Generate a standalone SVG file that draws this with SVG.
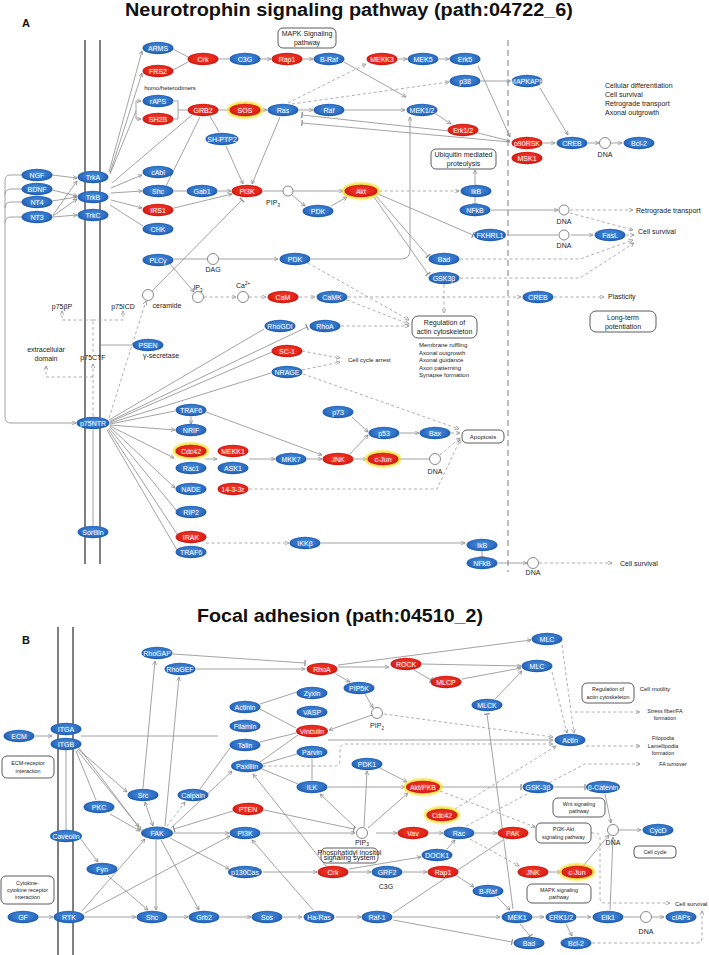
<svg xmlns="http://www.w3.org/2000/svg" width="709" height="955" viewBox="0 0 709 955">
<defs>
<radialGradient id="gb" cx="50%" cy="45%" r="55%"><stop offset="0" stop-color="#4c92de"/><stop offset="0.7" stop-color="#2e6fc4"/><stop offset="1" stop-color="#1e58a8"/></radialGradient>
<radialGradient id="gr" cx="50%" cy="45%" r="55%"><stop offset="0" stop-color="#f44030"/><stop offset="0.7" stop-color="#e2241a"/><stop offset="1" stop-color="#c71912"/></radialGradient>
<filter id="fz" x="-20%" y="-50%" width="140%" height="200%"><feGaussianBlur stdDeviation="0.6"/></filter>
<filter id="fg" x="-30%" y="-80%" width="160%" height="260%"><feGaussianBlur stdDeviation="1.3"/></filter>
<marker id="ah" viewBox="0 0 6 6" refX="5.6" refY="3" markerWidth="4.5" markerHeight="4.5" orient="auto" markerUnits="userSpaceOnUse"><path d="M0.3,0.4 L5.6,3 L0.3,5.6" fill="none" stroke="#8c8c8c" stroke-width="1"/></marker>
<marker id="as" viewBox="0 0 6 6" refX="5.6" refY="3" markerWidth="4.5" markerHeight="4.5" orient="auto-start-reverse" markerUnits="userSpaceOnUse"><path d="M0.3,0.4 L5.6,3 L0.3,5.6" fill="none" stroke="#8c8c8c" stroke-width="1"/></marker>
<marker id="tb" viewBox="0 0 2 8" refX="1" refY="4" markerWidth="1.6" markerHeight="7" orient="auto" markerUnits="userSpaceOnUse"><path d="M1,0 V8" stroke="#8c8c8c" stroke-width="1.6"/></marker>
<style>
.b{fill:url(#gb);filter:url(#fz)}
.r{fill:url(#gr);filter:url(#fz)}
.y{fill:#f2df34;filter:url(#fg)}
.w{font-family:"Liberation Sans",Arial,sans-serif;font-size:7px;fill:#fff;text-anchor:middle;dominant-baseline:central}
.k{font-family:"Liberation Sans",Arial,sans-serif;font-size:7px;fill:#222}
.c{text-anchor:middle}
.s6{font-size:6px}
.s5{font-size:5.4px}
.ttl{font-family:"Liberation Sans",Arial,sans-serif;font-weight:bold;fill:#111;text-anchor:middle}
.lbl{font-family:"Liberation Sans",Arial,sans-serif;font-weight:bold;font-size:11px;fill:#111}
.bx{fill:#fff;stroke:#333;stroke-width:0.8}
.ci{fill:#fff;stroke:#555;stroke-width:0.7}
.mem{stroke:#555;stroke-width:1.5;fill:none}
.l{stroke:#8c8c8c;stroke-width:0.8;fill:none}
.d{stroke-dasharray:3 2.5;stroke:#9a9a9a}
.a{marker-end:url(#ah)}
.t{marker-end:url(#tb)}
.ab{marker-start:url(#as);marker-end:url(#ah)}
</style>
</defs>
<rect width="709" height="955" fill="#fff"/>

<text class="ttl" x="349" y="15.5" font-size="17.5" textLength="448" lengthAdjust="spacingAndGlyphs">Neurotrophin signaling pathway (path:04722_6)</text>
<text class="lbl" x="22" y="27">A</text>
<text class="ttl" x="340" y="622" font-size="19" textLength="286" lengthAdjust="spacingAndGlyphs">Focal adhesion (path:04510_2)</text>
<text class="lbl" x="22" y="644">B</text>

<g id="membranes">
<path class="mem" d="M85,40 V564 M100,40 V564"/>
<path class="l" d="M93,430 V525"/>
<path d="M508,40 V572" stroke="#bdbdbd" stroke-width="2" stroke-dasharray="6 4" fill="none"/>
<path class="mem" d="M58,627 V955 M73,627 V955"/>
<path class="l" d="M66,750 V830"/>
</g>

<g id="connectors">
<path class="l a" d="M52,175 L77,178"/>
<path class="l a" d="M52,190 L77,196"/>
<path class="l a" d="M52,201 L77,197"/>
<path class="l a" d="M53,215 L77,181"/>
<path class="l a" d="M53,216 L77,199"/>
<path class="l a" d="M53,217 L77,215"/>
<path class="l a" d="M22,175 H10 Q5,175 5,181 V417 Q5,423 11,423 H76"/>
<path class="l" d="M22,189 H11 Q5,189 5,195"/>
<path class="l" d="M22,202 H11 Q5,202 5,208"/>
<path class="l" d="M22,217 H11 Q5,217 5,223"/>
<path class="l a" d="M109,172 L142,51"/>
<path class="l a" d="M110,173 L142,73"/>
<path class="l" d="M110,174 L136,111"/>
<path class="l a" d="M136,110 V101 H141"/>
<path class="l a" d="M136,110 V119 H141"/>
<path class="l" d="M174,101 H178 V119 H174 M178,110 H187"/>
<path class="l" d="M112,183 L192,115"/>
<path class="l a" d="M111,188 L142,175"/>
<path class="l a" d="M111,193 L142,191"/>
<path class="l a" d="M111,200 L142,208"/>
<path class="l" d="M110,205 L143,226"/>
<path class="l" d="M173,49 L188,57 M173,70 L188,62"/>
<path class="l" d="M218,59 H229"/>
<path class="l a" d="M260,59 H271"/>
<path class="l a" d="M302,59 H313"/>
<path class="l a" d="M344,62 L406,97"/>
<path class="l a" d="M398,59 H407"/>
<path class="l a" d="M439,59 H449"/>
<path class="l a" d="M478,66 L510,137"/>
<path class="l a" d="M481,81 H511"/>
<path class="l a" d="M540,88 L568,135"/>
<path class="l d a" d="M288,103 L366,64"/>
<path class="l d a" d="M292,104 L449,82"/>
<path class="l" d="M218,110 H229"/>
<path class="l a" d="M261,110 H267"/>
<path class="l a" d="M299,110 H313"/>
<path class="l a" d="M345,110 H405"/>
<path class="l a" d="M436,114 L451,124"/>
<path class="l t" d="M449,131 L302,115"/>
<path class="l t" d="M510,142 L302,123"/>
<path class="l a" d="M478,133 L510,141"/>
<path class="l a" d="M543,143 H555"/>
<path class="l a" d="M588,143 H599"/>
<path class="l a" d="M611,143 H622"/>
<path class="l" d="M210,116 L219,132"/>
<path class="l a" d="M226,146 L243,184"/>
<path class="l a" d="M280,117 L252,184"/>
<path class="l" d="M200,117 L166,186"/>
<path class="l" d="M174,191 H186"/>
<path class="l a" d="M218,191 H231"/>
<path class="l a" d="M174,208 L232,194"/>
<path class="l" d="M263,191 H283"/>
<path class="l a" d="M293,191 H343"/>
<path class="l a" d="M292,195 L305,206"/>
<path class="l a" d="M331,206 L347,197"/>
<path class="l d a" d="M379,191 H459"/>
<path class="l t" d="M475,197.5 V204"/>
<path class="l a" d="M475,184.5 V170"/>
<path class="l a" d="M491,210 H558"/>
<path class="l d a" d="M570,210 H633"/>
<path class="l d a" d="M570,213 L633,230"/>
<path class="l t" d="M378,194 L473,235"/>
<path class="l" d="M507,235 H558"/>
<path class="l a" d="M571,235 H593"/>
<path class="l d a" d="M626,235 H634"/>
<path class="l t" d="M376,196 L428,256"/>
<path class="l t" d="M374,197 L428,274"/>
<path class="l d a" d="M460,259 H580 L633,240"/>
<path class="l d a" d="M460,278 H580 L634,243"/>
<path class="l d a" d="M444,285 V313"/>
<path class="l d a" d="M308,263 L409,320"/>
<path class="l d a" d="M347,300 L409,324"/>
<path class="l d a" d="M341,326 L409,326"/>
<path class="l" d="M174,259 H207"/>
<path class="l a" d="M219,259 H278"/>
<path class="l a" d="M311,259 H401 Q410,259 410,250 V117"/>
<path class="l a" d="M170,264 L194,292"/>
<path class="l d a" d="M204,297 H236"/>
<path class="l d a" d="M249,297 H266"/>
<path class="l d a" d="M299,297 H315"/>
<path class="l d a" d="M348,297 H521"/>
<path class="l d a" d="M554,297 H604"/>
<path class="l t" d="M152,291 L242,200"/>
<path class="l d a" d="M109,418 L146,301"/>
<path class="l d" d="M93,416 V377"/>
<path class="l d a" d="M93,377 H46 V366"/>
<path class="l d a" d="M93,377 V364"/>
<path class="l d" d="M93,352 V320"/>
<path class="l d a" d="M93,320 H62 V311"/>
<path class="l d a" d="M93,320 H123 V311"/>
<path class="l" d="M132,345 H100"/>
<path class="l" d="M109,420 L264,329"/>
<path class="l t" d="M110,421 L307,327"/>
<path class="l" d="M110,422 L272,352"/>
<path class="l" d="M110,423 L271,373"/>
<path class="l" d="M110,424 L175,411"/>
<path class="l a" d="M110,425 L175,430"/>
<path class="l a" d="M110,426 L174,458"/>
<path class="l a" d="M110,427 L175,488"/>
<path class="l" d="M109,428 L176,510"/>
<path class="l" d="M108,429 L177,534"/>
<path class="l" d="M107,430 L177,550"/>
<path class="l a" d="M191,417 V424"/>
<path class="l a" d="M206,412 L322,455"/>
<path class="l a" d="M205,459 H217"/>
<path class="l a" d="M249,459 H275"/>
<path class="l a" d="M307,459 H322"/>
<path class="l a" d="M354,459 H367"/>
<path class="l a" d="M350,454 L368,435"/>
<path class="l a" d="M352,417 L368,432"/>
<path class="l a" d="M400,433 H419"/>
<path class="l d a" d="M451,433 H460"/>
<path class="l d a" d="M440,455 L460,438"/>
<path class="l d a" d="M303,374 L459,429"/>
<path class="l d a" d="M249,489 H437 L460,440"/>
<path class="l" d="M399,459 H429"/>
<path class="l d a" d="M302,351 L340,358"/>
<path class="l d a" d="M302,370 L340,362"/>
<path class="l d a" d="M206,543 H289"/>
<path class="l a" d="M321,543 H465"/>
<path class="l t" d="M482,551.5 V557"/>
<path class="l a" d="M498,563 H527"/>
<path class="l d a" d="M539,563 H612"/>
<path class="l a" d="M35,736 H52"/>
<path class="l" d="M81,736 H218"/>
<path class="l t" d="M173,654 L305,663"/>
<path class="l a" d="M196,669 H305"/>
<path class="l a" d="M143,788 L155,661"/>
<path class="l a" d="M165,826 L179,677"/>
<path class="l a" d="M338,667 H389"/>
<path class="l a" d="M336,674 L350,682"/>
<path class="l a" d="M338,665 L531,640"/>
<path class="l a" d="M422,664 L521,666"/>
<path class="l t" d="M414,670 L431,680"/>
<path class="l a" d="M462,679 L521,668"/>
<path class="l a" d="M495,699 L522,671"/>
<path class="l d a" d="M562,645 L574,733"/>
<path class="l d a" d="M552,672 L567,733"/>
<path class="l d a" d="M575,712 H640"/>
<path class="l a" d="M365,694 L373,708"/>
<path class="l a" d="M372,715 L329,730"/>
<path class="l d a" d="M384,714 L553,737"/>
<path class="l" d="M260,704 L297,692"/>
<path class="l" d="M260,709 L296,728"/>
<path class="l" d="M260,742 L296,733"/>
<path class="l a" d="M328,740 H553"/>
<path class="l d a" d="M263,766 H334 Q340,766 340,760 V750 Q340,744 346,744 H553"/>
<path class="l d a" d="M586,746 H640"/>
<path class="l d a" d="M466,826 L585,764 H640"/>
<path class="l d a" d="M455,809 L556,746"/>
<path class="l d a" d="M440,791 L535,827"/>
<path class="l d a" d="M470,839 L519,866"/>
<path class="l t" d="M440,787 H521"/>
<path class="l t" d="M554,787 H585"/>
<path class="l a" d="M605,794 L611,823"/>
<path class="l a" d="M619,830 H641"/>
<path class="l a" d="M584,865 L609,835"/>
<path class="l a" d="M610,910 L613,837"/>
<path class="l d a" d="M591,833 H595 Q600,833 600,838 V898 Q600,903 605,903 H670"/>
<path class="l d a" d="M592,943 H697 Q702,943 702,938 V911"/>
<path class="l a" d="M533,917 H544"/>
<path class="l a" d="M577,917 H591"/>
<path class="l a" d="M566,924 L572,936"/>
<path class="l" d="M624,917 H640"/>
<path class="l a" d="M652,917 H664"/>
<path class="l t" d="M520,924 L530,936"/>
<path class="l t" d="M393,920 L512,942"/>
<path class="l a" d="M393,917 H500"/>
<path class="l a" d="M497,897 L510,910"/>
<path class="l a" d="M457,876 L474,887"/>
<path class="l" d="M393,913 L503,840"/>
<path class="l t" d="M513,909 L487,714"/>
<path class="l a" d="M475,833 H497"/>
<path class="l a" d="M429,833 H443"/>
<path class="l a" d="M447,849 L455,840"/>
<path class="l a" d="M349,869 L421,857"/>
<path class="l a" d="M349,872 H371"/>
<path class="l a" d="M403,872 H427"/>
<path class="l a" d="M326,866 L253,774"/>
<path class="l a" d="M263,872 H317"/>
<path class="l a" d="M261,833 H355"/>
<path class="l t" d="M264,810 L354,829"/>
<path class="l a" d="M356,828 L320,794"/>
<path class="l a" d="M364,827 L367,771"/>
<path class="l a" d="M368,828 L408,793"/>
<path class="l a" d="M380,768 L407,782"/>
<path class="l a" d="M328,787 H405"/>
<path class="l" d="M312,759 V780"/>
<path class="l" d="M263,764 L297,754"/>
<path class="l" d="M262,769 L298,784"/>
<path class="l" d="M260,762 L298,735"/>
<path class="l a" d="M171,828 L232,771"/>
<path class="l" d="M200,789 L230,748"/>
<path class="l d a" d="M167,826 L185,802"/>
<path class="l ab" d="M145,802 L153,826"/>
<path class="l a" d="M78,749 L127,792"/>
<path class="l a" d="M79,748 L141,830"/>
<path class="l a" d="M77,750 L139,827"/>
<path class="l" d="M76,751 L96,800"/>
<path class="l a" d="M110,814 L140,831"/>
<path class="l a" d="M80,838 L98,862"/>
<path class="l a" d="M108,876 L148,910"/>
<path class="l a" d="M82,911 L145,839"/>
<path class="l a" d="M85,913 L230,836"/>
<path class="l a" d="M85,917 H136"/>
<path class="l a" d="M37,917 H53"/>
<path class="l a" d="M156,840 V910"/>
<path class="l a" d="M161,840 L199,910"/>
<path class="l a" d="M173,833 H229"/>
<path class="l a" d="M170,838 L229,869"/>
<path class="l t" d="M233,811 L174,829"/>
<path class="l a" d="M168,917 H188"/>
<path class="l a" d="M220,917 H251"/>
<path class="l a" d="M283,917 H302"/>
<path class="l a" d="M336,917 H361"/>
<path class="l a" d="M313,910 L252,840"/>
<path class="l a" d="M376,833 H397"/>
<path class="l a" d="M549,872 H561"/>
</g>

<g id="labels">
<text class="k s6 c" x="170" y="90">homo/heterodimers</text>
<text class="k" x="605" y="88">Cellular differentiation</text>
<text class="k" x="605" y="97">Cell survival</text>
<text class="k" x="605" y="106">Retrograde transport</text>
<text class="k" x="605" y="115">Axonal outgrowth</text>
<text class="k" x="636" y="213">Retrograde transport</text>
<text class="k" x="638" y="234">Cell survival</text>
<text class="k" x="608" y="299">Plasticity</text>
<text class="k s6" x="348" y="362">Cell cycle arrest</text>
<text class="k s6" x="419" y="347">Membrane ruffling</text>
<text class="k s6" x="419" y="354.5">Axonal outgrowth</text>
<text class="k s6" x="419" y="362">Axonal guidance</text>
<text class="k s6" x="419" y="369.5">Axon patterning</text>
<text class="k s6" x="419" y="377">Synapse formation</text>
<text class="k" x="620" y="565.5">Cell survival</text>
<text class="k c" x="273" y="205">PIP<tspan font-size="4.5" dy="1.5">3</tspan></text>
<text class="k c" x="605" y="157">DNA</text>
<text class="k c" x="564" y="224">DNA</text>
<text class="k c" x="564" y="248">DNA</text>
<text class="k c" x="213" y="272">DAG</text>
<text class="k c" x="198" y="290">IP<tspan font-size="4.5" dy="1.5">3</tspan></text>
<text class="k c" x="243" y="288">Ca<tspan font-size="4.5" dy="-3">2+</tspan></text>
<text class="k c" x="167" y="308">ceramide</text>
<text class="k c" x="62" y="309">p75βP</text>
<text class="k c" x="123" y="309">p75ICD</text>
<text class="k c" x="46" y="352">extracellular</text>
<text class="k c" x="46" y="361">domain</text>
<text class="k c" x="93" y="360">p75CTF</text>
<text class="k c" x="161" y="358">γ-secretase</text>
<text class="k c" x="435" y="474">DNA</text>
<text class="k c" x="533" y="575">DNA</text>
<text class="k c" x="377" y="728">PIP<tspan font-size="4.5" dy="1.5">2</tspan></text>
<text class="k c" x="362" y="845" font-size="8">PIP<tspan font-size="5" dy="1.2">3</tspan></text>
<text class="k c" x="613" y="845" font-size="7.5">DNA</text>
<text class="k c" x="646" y="934" font-size="7.5">DNA</text>
<text class="k c" x="386" y="889">C3G</text>
<text class="k s6 c" x="655" y="691">Cell motility</text>
<text class="k s5 c" x="665" y="713">Stress fiber/FA</text>
<text class="k s5 c" x="665" y="720">formation</text>
<text class="k s5 c" x="663" y="740">Filopodia</text>
<text class="k s5 c" x="663" y="747.5">Lamellipodia</text>
<text class="k s5 c" x="663" y="755">formation</text>
<text class="k s5 c" x="673" y="766">FA turnover</text>
<text class="k s6" x="675" y="906">Cell survival</text>
</g>

<g id="boxes">
<g id="box-mapk"><rect class="bx" x="278" y="28" width="58" height="20" rx="5"/><text class="k c" x="307" y="36">MAPK Signaling</text><text class="k c" x="307" y="44.5">pathway</text></g>
<g id="box-ubiq"><rect class="bx" x="431" y="149" width="65" height="20" rx="5"/><text class="k c" x="463.5" y="157">Ubiquitin mediated</text><text class="k c" x="463.5" y="165.5">proteolysis</text></g>
<g id="box-actinA"><rect class="bx" x="412" y="316" width="65" height="22" rx="6"/><text class="k c" x="444.5" y="325">Regulation of</text><text class="k c" x="444.5" y="334">actin cytoskeleton</text></g>
<g id="box-ltp"><rect class="bx" x="590" y="311" width="66" height="21" rx="6"/><text class="k c" x="623" y="319.5">Long-term</text><text class="k c" x="623" y="328.5">potentiation</text></g>
<g id="box-apop"><rect class="bx" x="462" y="430" width="42" height="13" rx="5"/><text class="k s6 c" x="483" y="438.8">Apoptosis</text></g>
<g id="box-actinB"><rect class="bx" x="582" y="683" width="52" height="20" rx="5"/><text class="k s5 c" x="608" y="691">Regulation of</text><text class="k s5 c" x="608" y="698.5">actin cytoskeleton</text></g>
<g id="box-ecm"><rect class="bx" x="2" y="756" width="52" height="22" rx="5"/><text class="k s5 c" x="28" y="765">ECM-receptor</text><text class="k s5 c" x="28" y="772.5">interaction</text></g>
<g id="box-cyto"><rect class="bx" x="1" y="876" width="53" height="28" rx="5"/><text class="k s5 c" x="27.5" y="885">Cytokine-</text><text class="k s5 c" x="27.5" y="892">cytokine receptor</text><text class="k s5 c" x="27.5" y="899">interaction</text></g>
<g id="box-phos"><rect class="bx" x="321" y="848" width="57" height="15" rx="5"/><text class="k c" x="349.5" y="854.5" font-size="4.3">Phosphatidyl inositol</text><text class="k c" x="349.5" y="860.3" font-size="4.3">signaling system</text></g>
<g id="box-wnt"><rect class="bx" x="553" y="798" width="52" height="19" rx="5"/><text class="k s5 c" x="579" y="806">Wnt signaling</text><text class="k s5 c" x="579" y="813">pathway</text></g>
<g id="box-pi3k"><rect class="bx" x="536" y="823" width="55" height="20" rx="5"/><text class="k s5 c" x="563.5" y="831">PI3K-Akt</text><text class="k s5 c" x="563.5" y="838.5">signaling pathway</text></g>
<g id="box-cc"><rect class="bx" x="634" y="846" width="42" height="12" rx="4"/><text class="k s5 c" x="655" y="854">Cell cycle</text></g>
<g id="box-mapkB"><rect class="bx" x="527" y="884" width="64" height="19" rx="5"/><text class="k s5 c" x="559" y="892">MAPK signaling</text><text class="k s5 c" x="559" y="899">pathway</text></g>
</g>

<g id="circles">
<circle class="ci" cx="288" cy="191" r="5"/>
<circle class="ci" cx="605" cy="143" r="5.5"/>
<circle class="ci" cx="564" cy="210" r="5"/>
<circle class="ci" cx="564" cy="235" r="5"/>
<circle class="ci" cx="213" cy="259" r="5.5"/>
<circle class="ci" cx="198" cy="297" r="5.5"/>
<circle class="ci" cx="243" cy="297" r="5.5"/>
<circle class="ci" cx="148" cy="295" r="5.5"/>
<circle class="ci" cx="435" cy="459" r="5.5"/>
<circle class="ci" cx="533" cy="563" r="5.5"/>
<circle class="ci" cx="377" cy="713" r="5.5"/>
<circle class="ci" cx="362" cy="833" r="5.5"/>
<circle class="ci" cx="613" cy="830" r="5.5"/>
<circle class="ci" cx="646" cy="917" r="5.5"/>
</g>

<g id="n-ARMS"><ellipse class="b" cx="158" cy="48" rx="15.5" ry="6.2"/><text class="w" x="158" y="48">ARMS</text></g>
<g id="n-FRS2"><ellipse class="r" cx="158" cy="71" rx="15.5" ry="6.2"/><text class="w" x="158" y="71">FRS2</text></g>
<g id="n-Crk"><ellipse class="r" cx="203" cy="59" rx="15.5" ry="6.2"/><text class="w" x="203" y="59">Crk</text></g>
<g id="n-C3G"><ellipse class="b" cx="245" cy="59" rx="15.5" ry="6.2"/><text class="w" x="245" y="59">C3G</text></g>
<g id="n-Rap1"><ellipse class="r" cx="287" cy="59" rx="15.5" ry="6.2"/><text class="w" x="287" y="59">Rap1</text></g>
<g id="n-BRaf"><ellipse class="b" cx="329" cy="59" rx="15.5" ry="6.2"/><text class="w" x="329" y="59">B-Raf</text></g>
<g id="n-MEKK3"><ellipse class="r" cx="382" cy="59" rx="15.5" ry="6.2"/><text class="w" x="382" y="59">MEKK3</text></g>
<g id="n-MEK5"><ellipse class="b" cx="423" cy="59" rx="15.5" ry="6.2"/><text class="w" x="423" y="59">MEK5</text></g>
<g id="n-Erk5"><ellipse class="b" cx="465" cy="59" rx="15.5" ry="6.2"/><text class="w" x="465" y="59">Erk5</text></g>
<g id="n-p38"><ellipse class="b" cx="465" cy="81" rx="15.5" ry="6.2"/><text class="w" x="465" y="81">p38</text></g>
<g id="n-MAPKAPK"><ellipse class="b" cx="527" cy="81" rx="15.5" ry="6.2"/><text class="w" x="527" y="81" font-size="5.5">MAPKAPK</text></g>
<g id="n-rAPS"><ellipse class="b" cx="158" cy="101" rx="15.5" ry="6.2"/><text class="w" x="158" y="101">rAPS</text></g>
<g id="n-SH2B"><ellipse class="r" cx="158" cy="119" rx="15.5" ry="6.2"/><text class="w" x="158" y="119">SH2B</text></g>
<g id="n-GRB2"><ellipse class="r" cx="203" cy="110" rx="15.5" ry="6.2"/><text class="w" x="203" y="110">GRB2</text></g>
<g id="n-SOS"><ellipse class="y" cx="245" cy="110" rx="18" ry="8.5"/><ellipse class="r" cx="245" cy="110" rx="15.5" ry="6.2"/><text class="w" x="245" y="110">SOS</text></g>
<g id="n-Ras"><ellipse class="b" cx="283" cy="110" rx="15.5" ry="6.2"/><text class="w" x="283" y="110">Ras</text></g>
<g id="n-Raf"><ellipse class="b" cx="329" cy="110" rx="15.5" ry="6.2"/><text class="w" x="329" y="110">Raf</text></g>
<g id="n-MEK12"><ellipse class="b" cx="422" cy="110" rx="15.5" ry="6.2"/><text class="w" x="422" y="110">MEK1/2</text></g>
<g id="n-Erk12"><ellipse class="r" cx="463" cy="130" rx="15.5" ry="6.2"/><text class="w" x="463" y="130">Erk1/2</text></g>
<g id="n-p90RSK"><ellipse class="r" cx="527" cy="143" rx="15.5" ry="6.2"/><text class="w" x="527" y="143">p90RSK</text></g>
<g id="n-MSK1"><ellipse class="r" cx="527" cy="158" rx="15.5" ry="6.2"/><text class="w" x="527" y="158">MSK1</text></g>
<g id="n-CREB"><ellipse class="b" cx="572" cy="143" rx="15.5" ry="6.2"/><text class="w" x="572" y="143">CREB</text></g>
<g id="n-Bcl2"><ellipse class="b" cx="639" cy="143" rx="15.5" ry="6.2"/><text class="w" x="639" y="143">Bcl-2</text></g>
<g id="n-SHPTP2"><ellipse class="b" cx="222" cy="139" rx="16.5" ry="6.2"/><text class="w" x="222" y="139">SH-PTP2</text></g>
<g id="n-cAbl"><ellipse class="b" cx="158" cy="172" rx="15.5" ry="6.2"/><text class="w" x="158" y="172">cAbl</text></g>
<g id="n-Shc"><ellipse class="b" cx="158" cy="191" rx="15.5" ry="6.2"/><text class="w" x="158" y="191">Shc</text></g>
<g id="n-Gab1"><ellipse class="b" cx="202" cy="191" rx="15.5" ry="6.2"/><text class="w" x="202" y="191">Gab1</text></g>
<g id="n-IRS1"><ellipse class="r" cx="158" cy="210" rx="15.5" ry="6.2"/><text class="w" x="158" y="210">IRS1</text></g>
<g id="n-CHK"><ellipse class="b" cx="158" cy="229" rx="15.5" ry="6.2"/><text class="w" x="158" y="229">CHK</text></g>
<g id="n-PI3K"><ellipse class="r" cx="247" cy="191" rx="15.5" ry="6.2"/><text class="w" x="247" y="191">PI3K</text></g>
<g id="n-PDK"><ellipse class="b" cx="318" cy="211" rx="15.5" ry="6.2"/><text class="w" x="318" y="211">PDK</text></g>
<g id="n-Akt"><ellipse class="y" cx="361" cy="191" rx="19" ry="8.5"/><ellipse class="r" cx="361" cy="191" rx="16.5" ry="6.2"/><text class="w" x="361" y="191">Akt</text></g>
<g id="n-IkB"><ellipse class="b" cx="476" cy="191" rx="15.5" ry="6.2"/><text class="w" x="476" y="191">IkB</text></g>
<g id="n-NFkB"><ellipse class="b" cx="475" cy="210" rx="15.5" ry="6.2"/><text class="w" x="475" y="210">NFkB</text></g>
<g id="n-FKHRL1"><ellipse class="b" cx="490" cy="235" rx="16" ry="6.2"/><text class="w" x="490" y="235">FKHRL1</text></g>
<g id="n-FasL"><ellipse class="b" cx="610" cy="235" rx="15.5" ry="6.2"/><text class="w" x="610" y="235">FasL</text></g>
<g id="n-NGF"><ellipse class="b" cx="37" cy="175" rx="15.5" ry="6.2"/><text class="w" x="37" y="175">NGF</text></g>
<g id="n-BDNF"><ellipse class="b" cx="37" cy="189" rx="15.5" ry="6.2"/><text class="w" x="37" y="189">BDNF</text></g>
<g id="n-NT4"><ellipse class="b" cx="37" cy="202" rx="15.5" ry="6.2"/><text class="w" x="37" y="202">NT4</text></g>
<g id="n-NT3"><ellipse class="b" cx="37" cy="217" rx="15.5" ry="6.2"/><text class="w" x="37" y="217">NT3</text></g>
<g id="n-TrkA"><ellipse class="b" cx="93" cy="177" rx="15.5" ry="6.2"/><text class="w" x="93" y="177">TrkA</text></g>
<g id="n-TrkB"><ellipse class="b" cx="93" cy="197" rx="15.5" ry="6.2"/><text class="w" x="93" y="197">TrkB</text></g>
<g id="n-TrkC"><ellipse class="b" cx="93" cy="215" rx="15.5" ry="6.2"/><text class="w" x="93" y="215">TrkC</text></g>
<g id="n-PLCg"><ellipse class="b" cx="158" cy="260" rx="15.5" ry="6.2"/><text class="w" x="158" y="260">PLCγ</text></g>
<g id="n-PDK2"><ellipse class="b" cx="295" cy="259" rx="15.5" ry="6.2"/><text class="w" x="295" y="259">PDK</text></g>
<g id="n-Bad"><ellipse class="b" cx="444" cy="259" rx="15.5" ry="6.2"/><text class="w" x="444" y="259">Bad</text></g>
<g id="n-GSK3b"><ellipse class="b" cx="444" cy="278" rx="15.5" ry="6.2"/><text class="w" x="444" y="278">GSK3β</text></g>
<g id="n-CaM"><ellipse class="r" cx="283" cy="297" rx="15.5" ry="6.2"/><text class="w" x="283" y="297">CaM</text></g>
<g id="n-CaMK"><ellipse class="b" cx="332" cy="297" rx="15.5" ry="6.2"/><text class="w" x="332" y="297">CaMK</text></g>
<g id="n-CREB2"><ellipse class="b" cx="538" cy="297" rx="15.5" ry="6.2"/><text class="w" x="538" y="297">CREB</text></g>
<g id="n-RhoGDI"><ellipse class="b" cx="280" cy="326" rx="15.5" ry="6.2"/><text class="w" x="280" y="326">RhoGDI</text></g>
<g id="n-RhoA"><ellipse class="b" cx="325" cy="326" rx="15.5" ry="6.2"/><text class="w" x="325" y="326">RhoA</text></g>
<g id="n-SC1"><ellipse class="r" cx="287" cy="351" rx="15.5" ry="6.2"/><text class="w" x="287" y="351">SC-1</text></g>
<g id="n-NRAGE"><ellipse class="b" cx="287" cy="372" rx="15.5" ry="6.2"/><text class="w" x="287" y="372">NRAGE</text></g>
<g id="n-PSEN"><ellipse class="b" cx="148" cy="345" rx="15.5" ry="6.2"/><text class="w" x="148" y="345">PSEN</text></g>
<g id="n-p75NTR"><ellipse class="b" cx="93" cy="423" rx="16.5" ry="6.2"/><text class="w" x="93" y="423">p75NTR</text></g>
<g id="n-TRAF6"><ellipse class="b" cx="191" cy="410" rx="15.5" ry="6.2"/><text class="w" x="191" y="410">TRAF6</text></g>
<g id="n-NRIF"><ellipse class="b" cx="191" cy="430" rx="15.5" ry="6.2"/><text class="w" x="191" y="430">NRIF</text></g>
<g id="n-Cdc42"><ellipse class="y" cx="191" cy="451" rx="18" ry="8.5"/><ellipse class="r" cx="191" cy="451" rx="15.5" ry="6.2"/><text class="w" x="191" y="451">Cdc42</text></g>
<g id="n-Rac1"><ellipse class="b" cx="191" cy="468" rx="15.5" ry="6.2"/><text class="w" x="191" y="468">Rac1</text></g>
<g id="n-MEKK1"><ellipse class="r" cx="233" cy="451" rx="15.5" ry="6.2"/><text class="w" x="233" y="451">MEKK1</text></g>
<g id="n-ASK1"><ellipse class="b" cx="233" cy="468" rx="15.5" ry="6.2"/><text class="w" x="233" y="468">ASK1</text></g>
<g id="n-NADE"><ellipse class="b" cx="191" cy="489" rx="15.5" ry="6.2"/><text class="w" x="191" y="489">NADE</text></g>
<g id="n-1433"><ellipse class="r" cx="233" cy="489" rx="15.5" ry="6.2"/><text class="w" x="233" y="489">14-3-3ε</text></g>
<g id="n-RIP2"><ellipse class="b" cx="191" cy="512" rx="15.5" ry="6.2"/><text class="w" x="191" y="512">RIP2</text></g>
<g id="n-p73"><ellipse class="b" cx="338" cy="412" rx="15.5" ry="6.2"/><text class="w" x="338" y="412">p73</text></g>
<g id="n-p53"><ellipse class="b" cx="384" cy="433" rx="15.5" ry="6.2"/><text class="w" x="384" y="433">p53</text></g>
<g id="n-Bax"><ellipse class="b" cx="435" cy="433" rx="15.5" ry="6.2"/><text class="w" x="435" y="433">Bax</text></g>
<g id="n-MKK7"><ellipse class="b" cx="291" cy="459" rx="15.5" ry="6.2"/><text class="w" x="291" y="459">MKK7</text></g>
<g id="n-JNK"><ellipse class="r" cx="338" cy="459" rx="15.5" ry="6.2"/><text class="w" x="338" y="459">JNK</text></g>
<g id="n-cJun"><ellipse class="y" cx="383" cy="459" rx="18" ry="8.5"/><ellipse class="r" cx="383" cy="459" rx="15.5" ry="6.2"/><text class="w" x="383" y="459">c-Jun</text></g>
<g id="n-Sortilin"><ellipse class="b" cx="93" cy="532" rx="15.5" ry="6.2"/><text class="w" x="93" y="532">Sortilin</text></g>
<g id="n-IRAK"><ellipse class="r" cx="191" cy="537" rx="15.5" ry="6.2"/><text class="w" x="191" y="537">IRAK</text></g>
<g id="n-TRAF6b"><ellipse class="b" cx="191" cy="552" rx="15.5" ry="6.2"/><text class="w" x="191" y="552">TRAF6</text></g>
<g id="n-IKKb"><ellipse class="b" cx="305" cy="543" rx="15.5" ry="6.2"/><text class="w" x="305" y="543">IKKβ</text></g>
<g id="n-IkB2"><ellipse class="b" cx="482" cy="545" rx="15.5" ry="6.2"/><text class="w" x="482" y="545">IkB</text></g>
<g id="n-NFkB2"><ellipse class="b" cx="482" cy="563" rx="15.5" ry="6.2"/><text class="w" x="482" y="563">NFkB</text></g>

<g id="m-RhoGAP"><ellipse class="b" cx="157" cy="653" rx="15.5" ry="6.2"/><text class="w" x="157" y="653">RhoGAP</text></g>
<g id="m-RhoGEF"><ellipse class="b" cx="180" cy="669" rx="15.5" ry="6.2"/><text class="w" x="180" y="669">RhoGEF</text></g>
<g id="m-ECM"><ellipse class="b" cx="19" cy="736" rx="15.5" ry="6.2"/><text class="w" x="19" y="736">ECM</text></g>
<g id="m-ITGA"><ellipse class="b" cx="66" cy="729" rx="15.5" ry="6.2"/><text class="w" x="66" y="729">ITGA</text></g>
<g id="m-ITGB"><ellipse class="b" cx="66" cy="744" rx="15.5" ry="6.2"/><text class="w" x="66" y="744">ITGB</text></g>
<g id="m-RhoA"><ellipse class="r" cx="322" cy="669" rx="15.5" ry="6.2"/><text class="w" x="322" y="669">RhoA</text></g>
<g id="m-ROCK"><ellipse class="r" cx="406" cy="664" rx="15.5" ry="6.2"/><text class="w" x="406" y="664">ROCK</text></g>
<g id="m-MLCP"><ellipse class="r" cx="446" cy="682" rx="15.5" ry="6.2"/><text class="w" x="446" y="682">MLCP</text></g>
<g id="m-PIP5K"><ellipse class="b" cx="359" cy="688" rx="15.5" ry="6.2"/><text class="w" x="359" y="688">PIP5K</text></g>
<g id="m-Zyxin"><ellipse class="b" cx="312" cy="693" rx="15.5" ry="6.2"/><text class="w" x="312" y="693">Zyxin</text></g>
<g id="m-VASP"><ellipse class="b" cx="312" cy="712" rx="15.5" ry="6.2"/><text class="w" x="312" y="712">VASP</text></g>
<g id="m-Actinin"><ellipse class="b" cx="245" cy="707" rx="15.5" ry="6.2"/><text class="w" x="245" y="707">Actinin</text></g>
<g id="m-Filamin"><ellipse class="b" cx="245" cy="726" rx="15.5" ry="6.2"/><text class="w" x="245" y="726">Filamin</text></g>
<g id="m-Vinculin"><ellipse class="r" cx="312" cy="731" rx="16" ry="6.2"/><text class="w" x="312" y="731">Vinculin</text></g>
<g id="m-Talin"><ellipse class="b" cx="245" cy="745" rx="15.5" ry="6.2"/><text class="w" x="245" y="745">Talin</text></g>
<g id="m-MLC"><ellipse class="b" cx="547" cy="639" rx="15.5" ry="6.2"/><text class="w" x="547" y="639">MLC</text></g>
<g id="m-MLC2"><ellipse class="b" cx="537" cy="666" rx="15.5" ry="6.2"/><text class="w" x="537" y="666">MLC</text></g>
<g id="m-MLCK"><ellipse class="b" cx="487" cy="705" rx="15.5" ry="6.2"/><text class="w" x="487" y="705">MLCK</text></g>
<g id="m-Actin"><ellipse class="b" cx="570" cy="740" rx="15.5" ry="6.2"/><text class="w" x="570" y="740">Actin</text></g>
<g id="m-Parvin"><ellipse class="b" cx="312" cy="752" rx="15.5" ry="6.2"/><text class="w" x="312" y="752">Parvin</text></g>
<g id="m-Paxillin"><ellipse class="b" cx="247" cy="766" rx="16" ry="6.2"/><text class="w" x="247" y="766">Paxillin</text></g>
<g id="m-PDK1"><ellipse class="b" cx="367" cy="764" rx="15.5" ry="6.2"/><text class="w" x="367" y="764">PDK1</text></g>
<g id="m-ILK"><ellipse class="b" cx="312" cy="787" rx="15.5" ry="6.2"/><text class="w" x="312" y="787">ILK</text></g>
<g id="m-AktPKB"><ellipse class="y" cx="423" cy="787" rx="19.5" ry="8.5"/><ellipse class="r" cx="423" cy="787" rx="17" ry="6.2"/><text class="w" x="423" y="787">Akt/PKB</text></g>
<g id="m-GSK3b"><ellipse class="b" cx="538" cy="787" rx="15.5" ry="6.2"/><text class="w" x="538" y="787">GSK-3β</text></g>
<g id="m-bCat"><ellipse class="b" cx="603" cy="787" rx="17" ry="6.2"/><text class="w" x="603" y="787">β-Catenin</text></g>
<g id="m-Src"><ellipse class="b" cx="143" cy="795" rx="15.5" ry="6.2"/><text class="w" x="143" y="795">Src</text></g>
<g id="m-Calpain"><ellipse class="b" cx="193" cy="795" rx="15.5" ry="6.2"/><text class="w" x="193" y="795">Calpain</text></g>
<g id="m-PKC"><ellipse class="b" cx="99" cy="807" rx="15.5" ry="6.2"/><text class="w" x="99" y="807">PKC</text></g>
<g id="m-FAK"><ellipse class="b" cx="157" cy="833" rx="16" ry="6.5"/><text class="w" x="157" y="833">FAK</text></g>
<g id="m-Caveolin"><ellipse class="b" cx="66" cy="836" rx="16" ry="6.2"/><text class="w" x="66" y="836">Caveolin</text></g>
<g id="m-PTEN"><ellipse class="r" cx="248" cy="809" rx="15.5" ry="6.2"/><text class="w" x="248" y="809">PTEN</text></g>
<g id="m-Cdc42"><ellipse class="y" cx="442" cy="815" rx="18" ry="8.5"/><ellipse class="r" cx="442" cy="815" rx="15.5" ry="6.2"/><text class="w" x="442" y="815">Cdc42</text></g>
<g id="m-PI3K"><ellipse class="b" cx="245" cy="833" rx="15.5" ry="6.2"/><text class="w" x="245" y="833">PI3K</text></g>
<g id="m-Vav"><ellipse class="r" cx="413" cy="833" rx="15.5" ry="6.2"/><text class="w" x="413" y="833">Vav</text></g>
<g id="m-Rac"><ellipse class="b" cx="459" cy="833" rx="15.5" ry="6.2"/><text class="w" x="459" y="833">Rac</text></g>
<g id="m-PAK"><ellipse class="r" cx="513" cy="833" rx="15.5" ry="6.2"/><text class="w" x="513" y="833">PAK</text></g>
<g id="m-CycD"><ellipse class="b" cx="658" cy="830" rx="15.5" ry="6.2"/><text class="w" x="658" y="830">CycD</text></g>
<g id="m-DOCK1"><ellipse class="b" cx="437" cy="855" rx="15.5" ry="6.2"/><text class="w" x="437" y="855">DOCK1</text></g>
<g id="m-Fyn"><ellipse class="b" cx="102" cy="869" rx="15.5" ry="6.2"/><text class="w" x="102" y="869">Fyn</text></g>
<g id="m-p130Cas"><ellipse class="b" cx="245" cy="872" rx="17" ry="6.2"/><text class="w" x="245" y="872">p130Cas</text></g>
<g id="m-Crk"><ellipse class="r" cx="333" cy="872" rx="15.5" ry="6.2"/><text class="w" x="333" y="872">Crk</text></g>
<g id="m-GRF2"><ellipse class="b" cx="387" cy="872" rx="15.5" ry="6.2"/><text class="w" x="387" y="872">GRF2</text></g>
<g id="m-Rap1"><ellipse class="r" cx="443" cy="872" rx="15.5" ry="6.2"/><text class="w" x="443" y="872">Rap1</text></g>
<g id="m-JNK"><ellipse class="r" cx="533" cy="872" rx="15.5" ry="6.2"/><text class="w" x="533" y="872">JNK</text></g>
<g id="m-cJun"><ellipse class="y" cx="577" cy="872" rx="18" ry="8.5"/><ellipse class="r" cx="577" cy="872" rx="15.5" ry="6.2"/><text class="w" x="577" y="872">c-Jun</text></g>
<g id="m-BRaf"><ellipse class="b" cx="488" cy="891" rx="15.5" ry="6.2"/><text class="w" x="488" y="891">B-Raf</text></g>
<g id="m-GF"><ellipse class="b" cx="23" cy="917" rx="15.5" ry="6.2"/><text class="w" x="23" y="917">GF</text></g>
<g id="m-RTK"><ellipse class="b" cx="69" cy="917" rx="15.5" ry="6.2"/><text class="w" x="69" y="917">RTK</text></g>
<g id="m-Shc"><ellipse class="b" cx="152" cy="917" rx="15.5" ry="6.2"/><text class="w" x="152" y="917">Shc</text></g>
<g id="m-Grb2"><ellipse class="b" cx="204" cy="917" rx="15.5" ry="6.2"/><text class="w" x="204" y="917">Grb2</text></g>
<g id="m-Sos"><ellipse class="b" cx="267" cy="917" rx="15.5" ry="6.2"/><text class="w" x="267" y="917">Sos</text></g>
<g id="m-HaRas"><ellipse class="b" cx="319" cy="917" rx="15.5" ry="6.2"/><text class="w" x="319" y="917">Ha-Ras</text></g>
<g id="m-Raf1"><ellipse class="b" cx="377" cy="917" rx="15.5" ry="6.2"/><text class="w" x="377" y="917">Raf-1</text></g>
<g id="m-MEK1"><ellipse class="b" cx="517" cy="917" rx="15.5" ry="6.2"/><text class="w" x="517" y="917">MEK1</text></g>
<g id="m-ERK12"><ellipse class="b" cx="561" cy="917" rx="15.5" ry="6.2"/><text class="w" x="561" y="917">ERK1/2</text></g>
<g id="m-Elk1"><ellipse class="b" cx="608" cy="917" rx="15.5" ry="6.2"/><text class="w" x="608" y="917">Elk1</text></g>
<g id="m-cIAPs"><ellipse class="b" cx="681" cy="917" rx="15.5" ry="6.2"/><text class="w" x="681" y="917">cIAPs</text></g>
<g id="m-Bad"><ellipse class="b" cx="529" cy="943" rx="15.5" ry="6.2"/><text class="w" x="529" y="943">Bad</text></g>
<g id="m-Bcl2"><ellipse class="b" cx="576" cy="943" rx="15.5" ry="6.2"/><text class="w" x="576" y="943">Bcl-2</text></g>
</svg>
